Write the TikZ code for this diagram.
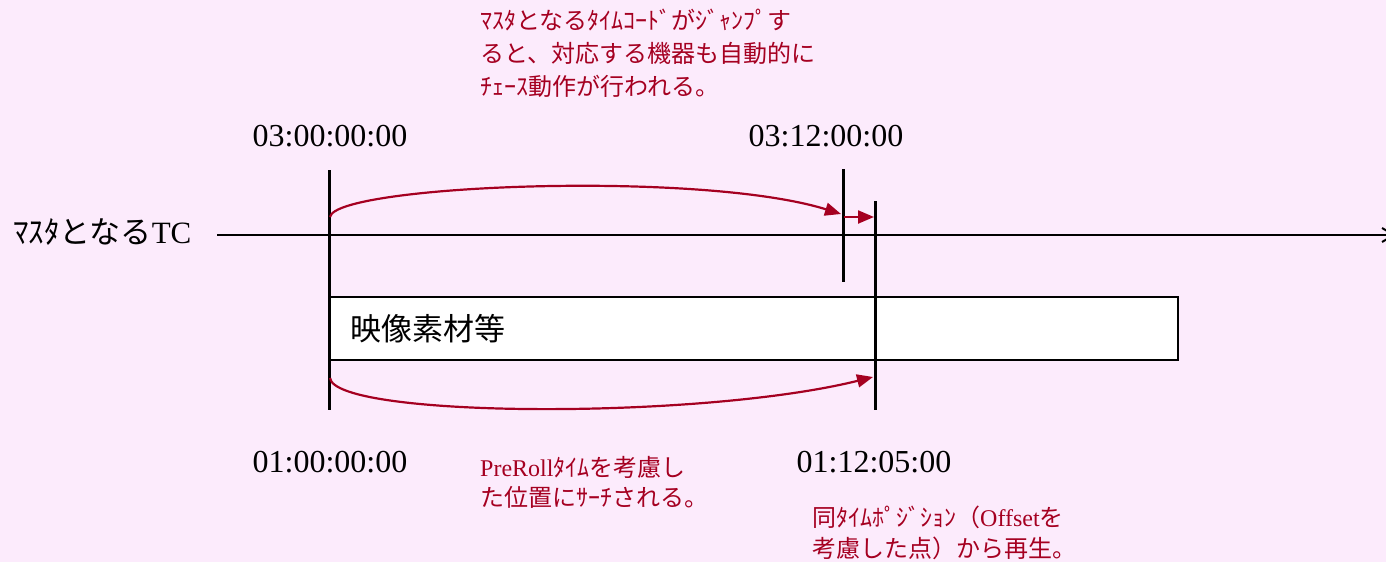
\documentclass[tikz,border=0pt]{standalone}
\usepackage{fontspec}
\setmainfont{Liberation Serif}
\newfontfamily\jp{Noto Sans CJK JP}
\usetikzlibrary{arrows.meta}
\definecolor{bg}{RGB}{252,235,252}
\definecolor{dred}{RGB}{165,0,33}
\begin{document}
\begin{tikzpicture}[x=1pt,y=-1pt,
  tclabel/.style={font=\fontsize{32}{32}\selectfont, inner sep=0, anchor=base},
  note/.style={text=dred, font=\fontsize{24}{33}\selectfont\jp, align=left, anchor=north west, inner sep=0},
  vbar/.style={line width=3pt},
  jump/.style={draw=dred, line width=2.2pt, -{Triangle[length=16pt,width=13pt]}}]
\useasboundingbox[fill=bg] (0,0) rectangle (1386,562);

% master TC line
\node[inner sep=0, anchor=base west, font=\fontsize{31}{31}\selectfont] (master) at (13,243) {{\jp ﾏｽﾀとなる}TC};
\coordinate (lstart) at (217,235);
\coordinate (lend) at (1396,235);
\draw[line width=2pt, -{Straight Barb[length=12pt,width=14pt]}] (lstart) -- (lend);

% material box
\node[draw, line width=2pt, fill=white, minimum width=849pt, minimum height=63pt, inner sep=0] (clip) at (753.5,328.5) {};
\node[inner sep=0, anchor=base west, font=\fontsize{31}{31}\selectfont\jp] (cliplabel) at (350,340) {映像素材等};

% vertical markers
\coordinate (a1) at (329,170); \coordinate (a2) at (329,410);
\coordinate (b1) at (843,169); \coordinate (b2) at (843,282);
\coordinate (c1) at (875,201); \coordinate (c2) at (875,410);
\draw[vbar] (a1) -- (a2);
\draw[vbar] (b1) -- (b2);
\draw[vbar] (c1) -- (c2);

% timecodes
\node[tclabel] (tcA) at (330,146) {03:00:00:00};
\node[tclabel] (tcB) at (826,146) {03:12:00:00};
\node[tclabel] (tcC) at (330,472) {01:00:00:00};
\node[tclabel] (tcD) at (874,472) {01:12:05:00};

% jump arrows
\coordinate (u0) at (330,217);
\coordinate (u1) at (841,214);
\coordinate (s0) at (844,217);
\coordinate (s1) at (874,217);
\coordinate (d0) at (330,378);
\coordinate (d1) at (873,377);
\draw[jump] (u0) .. controls (335,185) and (700,170) .. (u1);
\draw[jump] (s0) -- (s1);
\draw[jump] (d0) .. controls (335,418) and (700,420) .. (d1);

% notes
\node[note] (n1) at (480,9) {ﾏｽﾀとなるﾀｲﾑｺｰﾄﾞがｼﾞｬﾝﾌﾟす\\ると、対応する機器も自動的に\\ﾁｪｰｽ動作が行われる。};
\node[note, font=\fontsize{24}{30}\selectfont\jp] (n2) at (480,456) {{\rmfamily PreRoll}ﾀｲﾑを考慮し\\た位置にｻｰﾁされる。};
\node[note, font=\fontsize{24}{31}\selectfont\jp] (n3) at (812,506) {同ﾀｲﾑﾎﾟｼﾞｼｮﾝ（{\rmfamily Offset}を\\考慮した点）から再生。};
\end{tikzpicture}
\end{document}
